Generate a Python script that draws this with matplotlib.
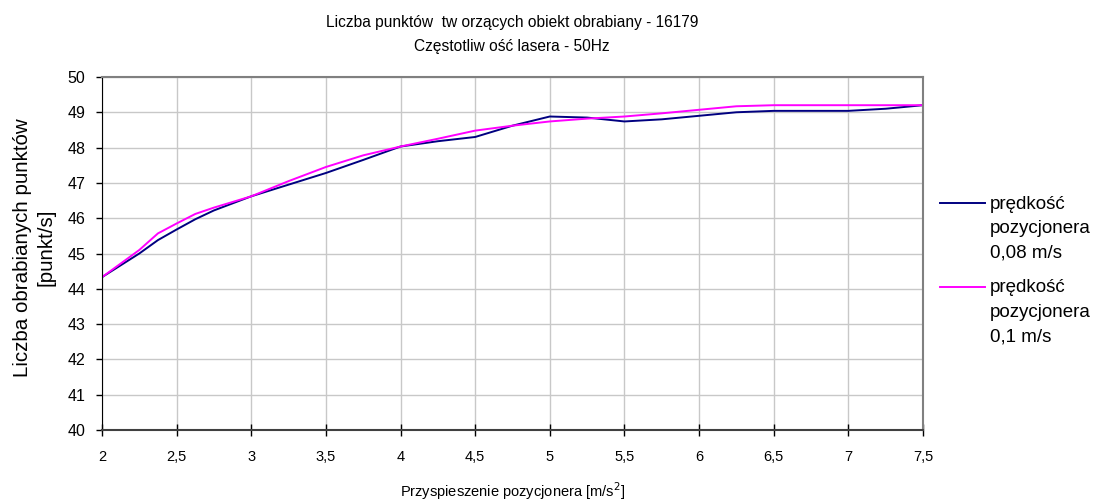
import numpy as np
import matplotlib
matplotlib.use('Agg')
import matplotlib.pyplot as plt
from matplotlib.lines import Line2D

plt.rcParams['font.family'] = ['Liberation Sans', 'DejaVu Sans']

# ------------------------------- Datos -------------------------------
przysp = [2, 2.25, 2.375, 2.5, 2.625, 2.75, 3, 3.25, 3.5, 3.75, 4, 4.25, 4.5,
          4.75, 5, 5.25, 5.5, 5.75, 6, 6.25, 6.5, 6.75, 7, 7.25, 7.5]
v008 = [44.33, 45.0, 45.38, 45.68, 45.97, 46.22, 46.62, 46.95, 47.28, 47.65, 48.03,
        48.18, 48.3, 48.62, 48.88, 48.85, 48.74, 48.8, 48.9, 49.0, 49.04, 49.04,
        49.04, 49.1, 49.2]
v01 = [44.33, 45.1, 45.57, 45.85, 46.12, 46.3, 46.62, 47.05, 47.45, 47.78, 48.03,
       48.25, 48.48, 48.62, 48.74, 48.82, 48.88, 48.97, 49.07, 49.17, 49.2, 49.2,
       49.2, 49.2, 49.2]
xticks = np.arange(2, 7.51, 0.5)
xlabels = [('%g' % t).replace('.', ',') for t in xticks]
yticks = np.arange(40, 51, 1)
legend_lab = [['prędkość', 'pozycjonera', '0,08 m/s'],
              ['prędkość', 'pozycjonera', '0,1 m/s']]
colores = ['#000080', '#ff00ff']

W, H = 1106, 503
fig = plt.figure(figsize=(W / 100, H / 100), dpi=100)
ax = fig.add_axes([0.0922, 0.145, 0.7423, 0.702])

ax.plot(przysp, v008, color=colores[0], linewidth=1.4)
ax.plot(przysp, v01, color=colores[1], linewidth=1.4)

ax.set_xlim(2, 7.5)
ax.set_ylim(40, 50)
ax.set_xticks(xticks)
ax.set_xticklabels(xlabels, fontsize=10.5)
ax.set_yticks(yticks)
ax.set_yticklabels([str(t) for t in yticks], fontsize=11.5)
ax.grid(True, color='#c8c8c8', linewidth=1.0)
ax.set_axisbelow(True)
ax.tick_params(axis='y', direction='out', length=4, width=1, pad=8)
ax.tick_params(axis='x', direction='inout', length=8, width=1, pad=10)
ax.spines['left'].set_color('black')
ax.spines['bottom'].set_color('#404040')
ax.spines['bottom'].set_linewidth(1.5)
ax.spines['top'].set_color('#808080')
ax.spines['right'].set_color('#808080')
ax.spines['top'].set_linewidth(1.5)
ax.spines['right'].set_linewidth(1.5)

fig.text(512 / W, 1 - 22 / H, 'Liczba punktów  tw orzących obiekt obrabiany - 16179',
         ha='center', va='center', fontsize=11.2)
fig.text(512 / W, 1 - 46 / H, 'Częstotliw ość lasera - 50Hz',
         ha='center', va='center', fontsize=11.2)
ax.set_xlabel('Przyspieszenie pozycjonera [m/s$^2$]', fontsize=10.5, labelpad=12)
fig.text(23 / W, 0.5 + 4 / H, 'Liczba obrabianych punktów', rotation=90,
         ha='center', va='center', fontsize=14.8)
fig.text(46 / W, 0.5 + 4 / H, '[punkt/s]', rotation=90,
         ha='center', va='center', fontsize=14.8)

# legenda
for i, ypix in enumerate([203, 287]):
    fig.add_artist(Line2D([940 / W, 985 / W], [1 - ypix / H, 1 - ypix / H],
                          color=colores[i], linewidth=1.4))
    for k, txt in enumerate(legend_lab[i]):
        fig.text(990 / W, 1 - (ypix + 1 + k * 24.7) / H, txt, ha='left',
                 va='center', fontsize=13.5)

plt.savefig('out.png', dpi=100)
